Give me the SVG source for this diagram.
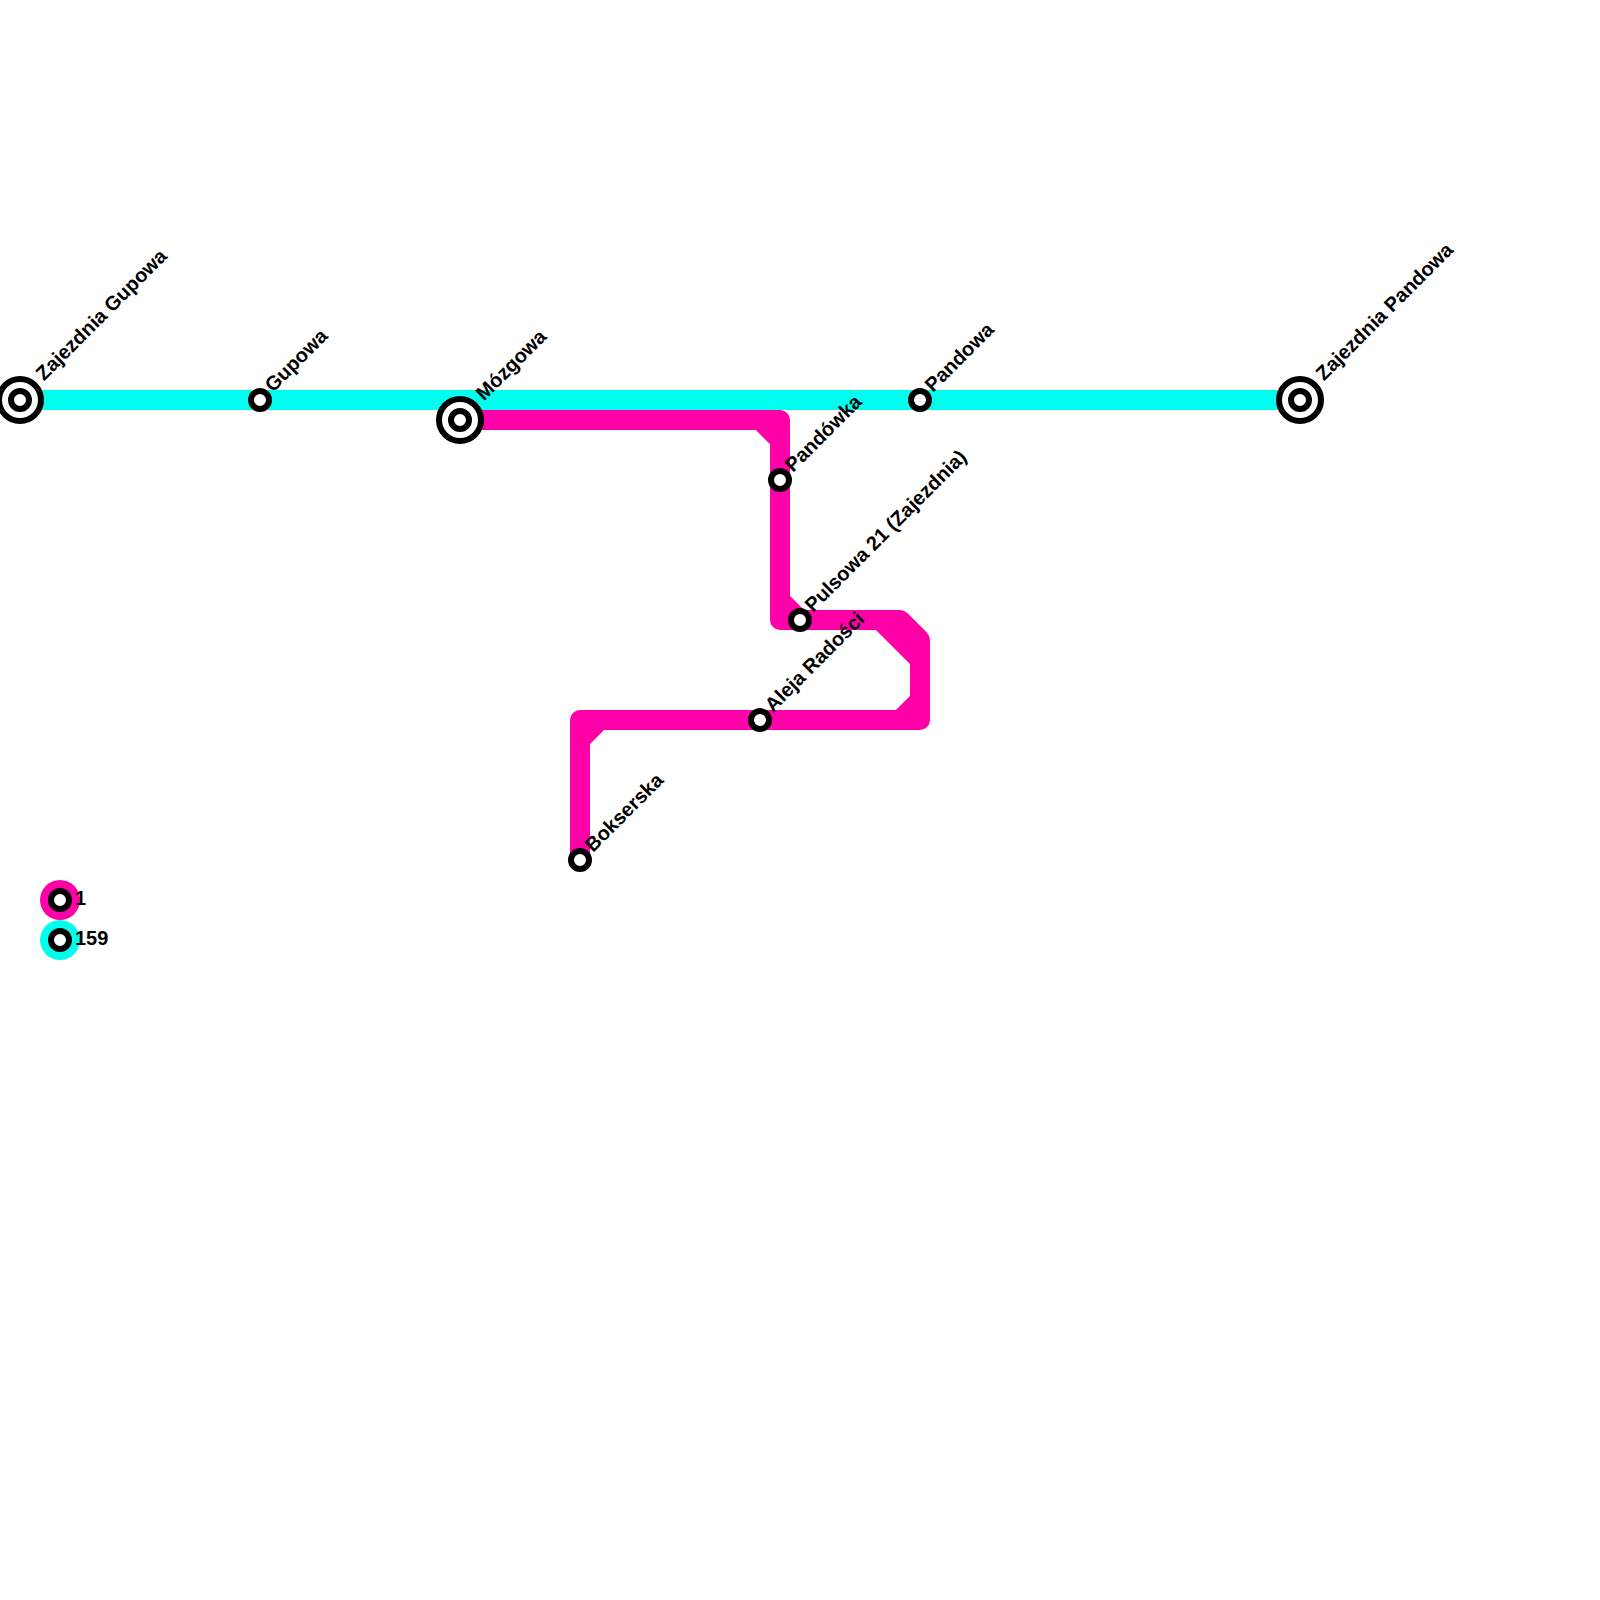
<svg xmlns="http://www.w3.org/2000/svg" width="1600" height="1600" viewBox="0 0 1600 1600">
<style>
.line{fill:none;stroke-width:20;stroke-linejoin:round}
.pink{stroke:#ff00a8}
.cyan{stroke:#00ffee}
.ring{fill:#fff;stroke:#000;stroke-width:6}
text{font-family:"Liberation Sans",Arial,sans-serif;font-weight:700;font-size:20px;fill:#000}
</style>
<rect width="1600" height="1600" fill="#fff"/>
<g id="connectors">
<path class="line cyan" d="M20 400H1300"/>
<path class="line pink" d="M460 420H760L780 440V600L800 620H900L920 640V700L900 720H600L580 740V860"/>
<path class="line pink" d="M760 420H780V440M780 600V620H800M880 620L920 660M900 620L920 640M920 700V720H900M600 720H580V740"/>
</g>
<g id="zajezdnia-gupowa"><circle class="ring" cx="20" cy="400" r="21"/><circle class="ring" cx="20" cy="400" r="9"/><text transform="translate(44 381.5) rotate(-45)">Zajezdnia Gupowa</text></g>
<g id="gupowa"><circle class="ring" cx="260" cy="400" r="9"/><text transform="translate(273 393) rotate(-45)">Gupowa</text></g>
<g id="mozgowa"><circle class="ring" cx="460" cy="420" r="21"/><circle class="ring" cx="460" cy="420" r="9"/><text transform="translate(484 401.5) rotate(-45)">Mózgowa</text></g>
<g id="pandowa"><circle class="ring" cx="920" cy="400" r="9"/><text transform="translate(933 393) rotate(-45)">Pandowa</text></g>
<g id="zajezdnia-pandowa"><circle class="ring" cx="1300" cy="400" r="21"/><circle class="ring" cx="1300" cy="400" r="9"/><text transform="translate(1324 381.5) rotate(-45)">Zajezdnia Pandowa</text></g>
<g id="pandowka"><circle class="ring" cx="780" cy="480" r="9"/><text transform="translate(793 473) rotate(-45)">Pandówka</text></g>
<g id="pulsowa"><circle class="ring" cx="800" cy="620" r="9"/><text transform="translate(813 613) rotate(-45)">Pulsowa 21 (Zajezdnia)</text></g>
<g id="aleja-radosci"><circle class="ring" cx="760" cy="720" r="9"/><text transform="translate(773 713) rotate(-45)">Aleja Radości</text></g>
<g id="bokserska"><circle class="ring" cx="580" cy="860" r="9"/><text transform="translate(593 853) rotate(-45)">Bokserska</text></g>
<g id="legend-1"><circle cx="60" cy="900" r="20" fill="#ff00a8"/><circle class="ring" cx="60" cy="900" r="9"/><text x="75" y="905">1</text></g>
<g id="legend-159"><circle cx="60" cy="940" r="20" fill="#00ffee"/><circle class="ring" cx="60" cy="940" r="9"/><text x="75" y="945">159</text></g>
</svg>
